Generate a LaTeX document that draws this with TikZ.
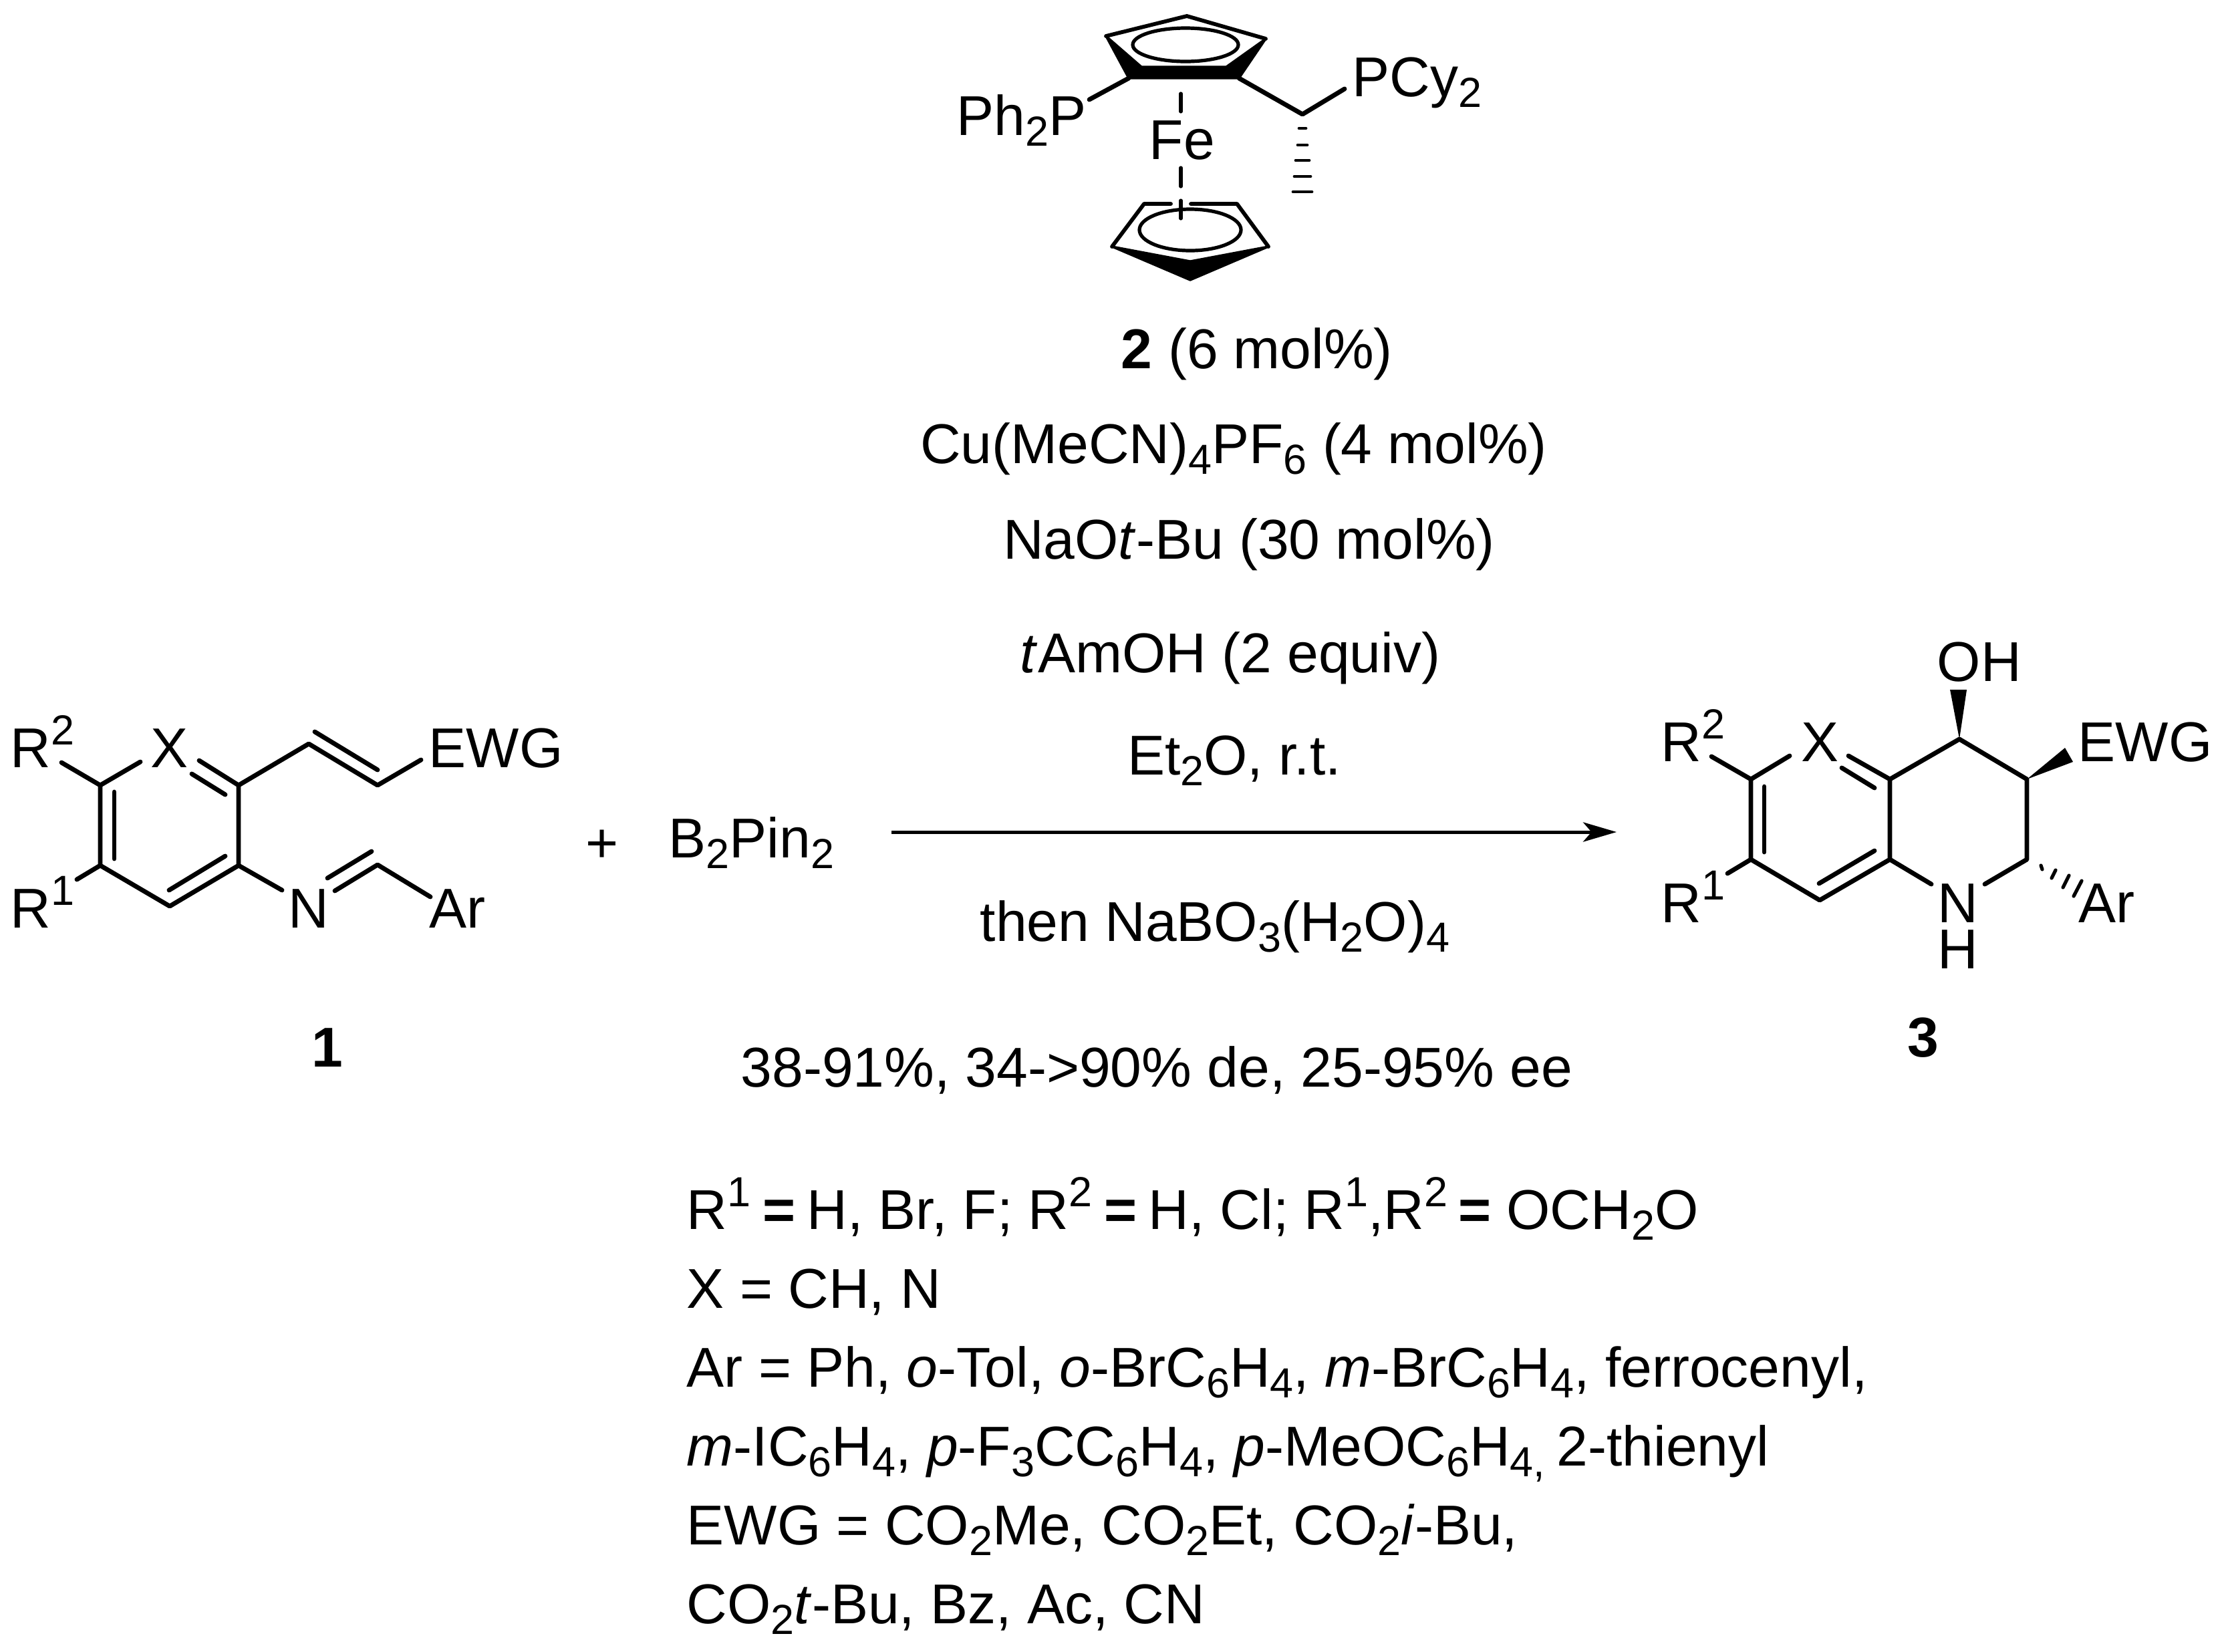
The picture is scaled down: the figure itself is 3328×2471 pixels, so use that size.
\documentclass[tikz,border=0pt]{standalone}
\usepackage{fontspec}
\setmainfont{Liberation Sans}
\usepackage{tikz}
\usetikzlibrary{arrows.meta}
\newcommand{\lo}[1]{\raisebox{-4pt}{\fontsize{15.1}{15.1}\selectfont #1}}
\newcommand{\hi}[1]{\raisebox{8.1pt}{\fontsize{15.1}{15.1}\selectfont #1}}
\tikzset{
	bond/.style={line width=1.65pt,line cap=round,line join=round},
	thinbond/.style={line width=1.25pt,line cap=round,line join=round},
	lbl/.style={anchor=base west,inner sep=0pt,font=\fontsize{20.16}{24}\selectfont},
	ctr/.style={anchor=base,inner sep=0pt,font=\fontsize{20.16}{24}\selectfont},
	rxnarrow/.style={line width=1.2pt,-{Stealth[length=12pt,width=7pt,inset=3pt]}}
}
\begin{document}
\begin{tikzpicture}[x=0.24pt,y=-0.24pt]
	\useasboundingbox (0,0) rectangle (3328,2471);
	% ferrocene catalyst
	\coordinate (capex) at (1776,24);
	\coordinate (cleft) at (1655,54);
	\coordinate (cright) at (1894,58);
	\coordinate (cbl) at (1689,117);
	\coordinate (cbr) at (1854,117);
	\coordinate (cil) at (1708,100);
	\coordinate (cir) at (1835,100);
	\coordinate (cch) at (1949,171);
	\coordinate (cpcy) at (2012,133);
	\coordinate (cph) at (1630,149);
	\coordinate (fe1) at (1767,140);
	\coordinate (fe2) at (1767,167);
	\coordinate (fe3) at (1767,251);
	\coordinate (fe4) at (1767,279);
	\coordinate (fe5) at (1767,300);
	\coordinate (fe6) at (1767,327);
	\coordinate (dtl) at (1712,305);
	\coordinate (dtm) at (1752,305);
	\coordinate (dtn) at (1782,305);
	\coordinate (dtr) at (1851,305);
	\coordinate (dl) at (1664,369);
	\coordinate (dr) at (1898,369);
	\coordinate (dapex) at (1781,419);
	\coordinate (dnotch) at (1781,391);
	\draw[bond,line width=1.4pt] (cleft) -- (capex) -- (cright);
	\fill[bond,line width=0.8pt,draw=black] (cleft) -- (cbl) -- (cbr) -- (cright) -- (cir) -- (cil) -- cycle;
	\draw[thinbond] (1774,67) ellipse [x radius=79,y radius=25];
	\draw[bond] (cbl) -- (cph);
	\draw[bond] (cbr) -- (cch) -- (cpcy);
	\draw[thinbond] (fe1) -- (fe2);
	\draw[thinbond] (fe3) -- (fe4);
	\draw[thinbond] (fe5) -- (fe6);
	\draw[bond,line width=1.4pt] (dtm) -- (dtl) -- (dl);
	\draw[bond,line width=1.4pt] (dtn) -- (dtr) -- (dr);
	\fill[bond,line width=0.8pt,draw=black] (dl) -- (dapex) -- (dr) -- (dnotch) -- cycle;
	\draw[thinbond] (1781,344) ellipse [x radius=76,y radius=31];
	\foreach \y/\w in {192/5,217/7,240/10,264/12,287/14}
		\draw[line width=1.15pt,line cap=round] (1949-\w,\y) -- (1949+\w,\y);
	\node[lbl] (ph2p) at (1431,202) {Ph\lo{2}P};
	\node[lbl] (pcy2) at (2023,144) {PCy\lo{2}};
	\node[lbl] (fe) at (1719,238) {Fe};
	% reagents
	\node[ctr] (cat) at (1881,551) {\textbf{2} (6 mol\%)};
	\node[ctr] (cu) at (1846,693) {Cu(MeCN)\lo{4}PF\lo{6} (4 mol\%)};
	\node[ctr] (naot) at (1869,836) {NaO\textit{t}-Bu (30 mol\%)};
	\node[ctr] (amoh) at (1841,1006) {\textit{t}AmOH (2 equiv)};
	\node[ctr] (et2o) at (1847,1159) {Et\lo{2}O, r.t.};
	\node[ctr] (nabo) at (1818,1408) {then NaBO\lo{3}(H\lo{2}O)\lo{4}};
	\node[ctr] (yield) at (1731,1626) {38-91\%, 34->90\% de, 25-95\% ee};
	\coordinate (arrs) at (1334,1245);
	\coordinate (arre) at (2419,1245);
	\draw[rxnarrow] (arrs) -- (arre);
	\node[ctr] (plus) at (901,1290) {+};
	\node[lbl] (bpin) at (1000,1283) {B\lo{2}Pin\lo{2}};
	% substrate 1
	\coordinate (la) at (150,1175);
	\coordinate (lb) at (150,1295);
	\coordinate (lc) at (254,1356);
	\coordinate (ld) at (357,1295);
	\coordinate (le) at (357,1175);
	\coordinate (lv1) at (462,1113);
	\coordinate (lv2) at (565,1175);
	\coordinate (lv3) at (630,1137);
	\coordinate (lv4) at (471,1095);
	\coordinate (lv5) at (565,1152);
	\coordinate (lr2) at (92,1141);
	\coordinate (lr1) at (115,1316);
	\coordinate (lx1) at (210,1140);
	\coordinate (lx2) at (298,1138);
	\coordinate (lx3) at (287,1158);
	\coordinate (lx4) at (337,1189);
	\coordinate (li1) at (171,1185);
	\coordinate (li2) at (171,1285);
	\coordinate (li3) at (253,1332);
	\coordinate (li4) at (337,1281);
	\coordinate (ln1) at (422,1332);
	\coordinate (ln2) at (501,1333);
	\coordinate (ln3) at (565,1294);
	\coordinate (ln4) at (644,1342);
	\coordinate (ln5) at (490,1314);
	\coordinate (ln6) at (556,1274);
	\draw[bond] (lr2) -- (la) -- (lb) -- (lc) -- (ld) -- (le) -- (lx2);
	\draw[bond] (la) -- (lx1);
	\draw[bond] (lb) -- (lr1);
	\draw[bond] (lx3) -- (lx4);
	\draw[bond] (li1) -- (li2);
	\draw[bond] (li3) -- (li4);
	\draw[bond] (le) -- (lv1) -- (lv2) -- (lv3);
	\draw[bond] (lv4) -- (lv5);
	\draw[bond] (ld) -- (ln1);
	\draw[bond] (ln2) -- (ln3) -- (ln4);
	\draw[bond] (ln5) -- (ln6);
	\node[lbl] (lrtwo) at (15,1148) {R\hi{2}};
	\node[ctr] (lxx) at (254,1148) {X};
	\node[lbl] (lewg) at (641,1148) {EWG};
	\node[lbl] (lrone) at (15,1388) {R\hi{1}};
	\node[ctr] (lnn) at (462,1388) {N};
	\node[lbl] (lar) at (642,1388) {Ar};
	\node[ctr] (lone) at (490,1596) {\textbf{1}};
	% product 3
	\coordinate (ra) at (2620,1166);
	\coordinate (rb) at (2620,1286);
	\coordinate (rc) at (2723,1347);
	\coordinate (rd) at (2828,1286);
	\coordinate (re) at (2828,1166);
	\coordinate (rf) at (2932,1106);
	\coordinate (rg) at (3033,1166);
	\coordinate (rh) at (3033,1286);
	\coordinate (rr2) at (2561,1132);
	\coordinate (rr1) at (2585,1307);
	\coordinate (rx1) at (2678,1131);
	\coordinate (rx2) at (2766,1131);
	\coordinate (rx3) at (2756,1149);
	\coordinate (rx4) at (2805,1179);
	\coordinate (ri1) at (2640,1177);
	\coordinate (ri2) at (2640,1275);
	\coordinate (ri3) at (2722,1322);
	\coordinate (ri4) at (2805,1273);
	\coordinate (rn1) at (2890,1323);
	\coordinate (rn2) at (2970,1323);
	\coordinate (roh1) at (2918,1032);
	\coordinate (roh2) at (2943,1032);
	\coordinate (rew1) at (3090,1119);
	\coordinate (rew2) at (3102,1140);
	\draw[bond] (rr2) -- (ra) -- (rb) -- (rc) -- (rd) -- (re) -- (rx2);
	\draw[bond] (ra) -- (rx1);
	\draw[bond] (rb) -- (rr1);
	\draw[bond] (rx3) -- (rx4);
	\draw[bond] (ri1) -- (ri2);
	\draw[bond] (ri3) -- (ri4);
	\draw[bond] (re) -- (rf) -- (rg) -- (rh) -- (rn2);
	\draw[bond] (rd) -- (rn1);
	\fill (rf) -- (roh1) -- (roh2) -- cycle;
	\fill (rg) -- (rew1) -- (rew2) -- cycle;
	\draw[thinbond] (3054,1295) -- (3056,1301);
	\draw[thinbond] (3076,1302) -- (3070,1314);
	\draw[thinbond] (3096,1310) -- (3087,1328);
	\draw[thinbond] (3115,1318) -- (3103,1341);
	\node[lbl] (rrtwo) at (2485,1139) {R\hi{2}};
	\node[ctr] (rxx) at (2723,1139) {X};
	\node[lbl] (rewg) at (3109,1139) {EWG};
	\node[lbl] (roh) at (2898,1019) {OH};
	\node[lbl] (rrone) at (2485,1380) {R\hi{1}};
	\node[ctr] (rnn) at (2930,1380) {N};
	\node[ctr] (rhh) at (2930,1449) {H};
	\node[lbl] (rar) at (3110,1380) {Ar};
	\node[ctr] (rthree) at (2878,1581) {\textbf{3}};
	% substituents
	\node[lbl] (subone) at (1027,1839) {R\hi{1}\hspace{-1.4pt} \textbf{=} \hspace{-1.4pt}H, Br, F; R\hi{2}\hspace{-1.4pt} \textbf{=} \hspace{-1.4pt}H, Cl; R\hi{1},R\hi{2}\hspace{-1.9pt} \textbf{=} OCH\lo{2}O};
	\node[lbl] (subtwo) at (1027,1957) {X = CH, N};
	\node[lbl] (subthree) at (1027,2075) {Ar = Ph, \textit{o}-Tol, \textit{o}-BrC\lo{6}H\lo{4}, \textit{m}-BrC\lo{6}H\lo{4}, ferrocenyl,};
	\node[lbl] (subfour) at (1027,2193) {\textit{m}-IC\lo{6}H\lo{4}, \textit{p}-F\lo{3}CC\lo{6}H\lo{4}, \textit{p}-MeOC\lo{6}H\lo{4}\lo{,}\hspace{-1.4pt} 2-thienyl};
	\node[lbl] (subfive) at (1027,2311) {EWG = CO\lo{2}Me, CO\lo{2}Et, CO\lo{2}\textit{i}-Bu,};
	\node[lbl] (subsix) at (1027,2429) {CO\lo{2}\textit{t}-Bu, Bz, Ac, CN};
\end{tikzpicture}
\end{document}
